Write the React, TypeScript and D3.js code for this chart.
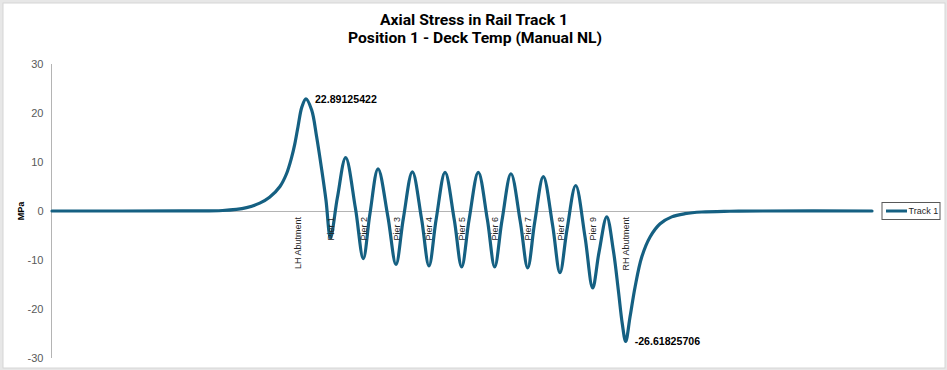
import React from 'react';
import * as d3 from 'd3';

// chainage along the track (m) and axial stress (MPa)
const chainage = [
    0, 120, 156, 178, 190, 199, 208.5, 214.5, 219, 222, 225, 228.5, 232.3, 237.5, 242, 246.7, 250.6,
    254.7, 261.0, 268.6, 277.5,
    284.7, 290.8, 298.2, 307.2,
    314.6, 321.4, 329.6, 338.0,
    344.8, 351.4, 359.5, 367.9,
    374.7, 381.5, 389.9, 398.2,
    404.9, 411.6, 419.8, 428.2,
    435.1, 441.5, 449.4, 457.8,
    464.6, 471.1, 479.0, 487.5,
    494.5, 500.3, 507.4, 513.4, 518.0, 521.6,
    524.7, 528.7, 533.3, 539.4, 547.0, 556.2, 566.8, 579.0, 594.3, 620, 650, 750,
];
const stress = [
    0, 0.02, 0.1, 0.7, 1.6, 2.8, 5.0, 7.6, 10.8, 13.6, 17.2, 21.2, 22.89125422, 20.6, 15.2, 8.4, 2.2,
    -5.5, 2.7, 10.9, 0.6,
    -9.7, -0.55, 8.6, -1.15,
    -10.9, -1.45, 8.0, -1.6,
    -11.2, -1.65, 7.9, -1.75,
    -11.4, -1.75, 7.9, -1.75,
    -11.4, -1.9, 7.6, -2.0,
    -11.6, -2.3, 7.0, -2.8,
    -12.6, -3.7, 5.2, -5.25,
    -15.7, -8.45, -1.2, -8.0, -16.2, -23.0,
    -26.61825706, -21.6, -15.5, -9.4, -5.3, -2.6, -1.2, -0.55, -0.2, -0.05, 0, 0,
];

const supportNames = ['LH Abutment', 'Pier 1', 'Pier 2', 'Pier 3', 'Pier 4', 'Pier 5', 'Pier 6', 'Pier 7', 'Pier 8', 'Pier 9', 'RH Abutment'];
const supportChainage = [225, 255, 285, 315, 345, 375, 405, 435, 465, 495, 525];

const yTicks = [-30, -20, -10, 0, 10, 20, 30];

const maxLabel = { x: 232.3, value: 22.89125422 };
const minLabel = { x: 524.7, value: -26.61825706 };

const seriesName = 'Track 1';
const titleLines = ['Axial Stress in Rail Track 1', 'Position 1 - Deck Temp (Manual NL)'];

const W = 947;
const H = 370;
const lineColor = '#156082';
const font = "'Liberation Sans', Arial, sans-serif";

const App: React.FC = () => {
    const x = d3.scaleLinear().domain([0, 750]).range([52, 872]);
    const y = d3.scaleLinear().domain([-30, 30]).range([358, 64]);

    const pts = chainage.map((c, i) => [c, stress[i]] as [number, number]);
    const line = d3.line<[number, number]>()
        .x(d => x(d[0]))
        .y(d => y(d[1]))
        .curve(d3.curveCatmullRom.alpha(0.5));

    return (
        <svg width={W} height={H} style={{ position: 'absolute', left: 0, top: 0 }}>
            <rect width={W} height={H} fill="#e7e7e7" />
            <rect x={3} y={3} width={942} height={365} fill="#fff" stroke="#d6d6d6" />

            {/* title */}
            <g fontFamily="'Liberation Sans Narrow', 'Arial Narrow', Roboto, sans-serif" fontWeight="bold" fontSize={15} fill="#000" textAnchor="middle">
                <text x={474} y={25} textLength={188} lengthAdjust="spacingAndGlyphs">{titleLines[0]}</text>
                <text x={475} y={43} textLength={254} lengthAdjust="spacingAndGlyphs">{titleLines[1]}</text>
            </g>

            {/* y axis */}
            <line x1={x(0) - 0.5} x2={x(0) - 0.5} y1={y(30)} y2={y(-30)} stroke="#b4b4b4" />
            <g fontFamily={font} fontSize={11} fill="#595959" textAnchor="end">
                {yTicks.map(t => (
                    <text key={t} x={43.5} y={y(t)} dy="0.35em">{t}</text>
                ))}
            </g>
            <text transform={`translate(24,${y(0)}) rotate(-90)`} textAnchor="middle" fontFamily={font} fontSize={9} fontWeight="bold" fill="#000">MPa</text>

            {/* zero line */}
            <line x1={x(0)} x2={x(750)} y1={y(0) + 0.5} y2={y(0) + 0.5} stroke="#b4b4b4" />

            {/* series */}
            <path d={line(pts) || undefined} fill="none" stroke={lineColor} strokeWidth={3.2} strokeLinejoin="round" strokeLinecap="round" />

            {/* support labels */}
            <g fontFamily={font} fontSize={9} fill="#262626" textAnchor="end">
                {supportNames.map((n, i) => (
                    <text key={n} transform={`translate(${x(supportChainage[i])},${y(0) + 6}) rotate(-90)`} dy="0.35em">{n}</text>
                ))}
            </g>

            {/* data labels */}
            <g fontFamily={font} fontSize={10.6} fontWeight="bold" fill="#000">
                <text x={x(maxLabel.x) + 9} y={y(maxLabel.value)} dy="0.35em">{maxLabel.value.toFixed(8)}</text>
                <text x={x(minLabel.x) + 9} y={y(minLabel.value)} dy="0.35em">{minLabel.value.toFixed(8)}</text>
            </g>

            {/* legend */}
            <rect x={882} y={202.5} width={58} height={17} fill="#fff" stroke="#595959" />
            <line x1={886} x2={907} y1={211} y2={211} stroke={lineColor} strokeWidth={3} />
            <text x={908.5} y={211} dy="0.35em" fontFamily={font} fontSize={9} fill="#262626">{seriesName}</text>
        </svg>
    );
};

export default App;
